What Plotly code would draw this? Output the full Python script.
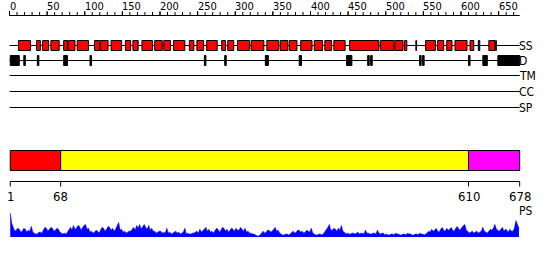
import plotly.graph_objects as go

# ---------------- data ----------------
seq_len = 678
ruler_major = [0, 50, 100, 150, 200, 250, 300, 350, 400, 450, 500, 550, 600, 650]
ruler_minor = list(range(0, 680, 10))

# secondary structure elements (H = helix, E = strand)
ss_start = [12, 36, 44, 55, 72, 78, 90, 113, 121, 135, 154, 164, 176, 193, 205, 218, 239, 249,
            262, 282, 290, 303, 321, 342, 360, 372, 387, 405, 419, 431, 452, 493, 512, 525,
            540, 553, 569, 581, 592, 612, 623, 637, 646]
ss_end = [28, 41, 52, 66, 77, 87, 105, 120, 131, 149, 161, 171, 190, 203, 214, 233, 245, 258,
          276, 287, 298, 319, 338, 358, 370, 382, 402, 416, 428, 446, 491, 511, 523, 528,
          541, 566, 577, 588, 608, 617, 625, 645, 647]
ss_type = ['H'] * 40 + ['E'] + ['H', 'H']

# disordered regions
d_start = [1, 19, 37, 72, 107, 259, 286, 340, 385, 448, 476, 480, 545, 549, 610, 629, 649]
d_end = [13, 21, 39, 77, 109, 261, 288, 344, 388, 455, 478, 482, 547, 551, 612, 635, 678]

track_names = ['SS', 'D', 'TM', 'CC', 'SP']

# domain architecture
dom_start = [1, 68, 610]
dom_end = [68, 610, 678]
dom_colors = ['#FF0000', '#FFFF00', '#FF00FF']
dom_ticks = [1, 68, 610, 678]

# PS profile (sampled every 2 residues, r = 1, 3, 5, ...)
ps_pos = list(range(1, 678, 2))
ps_val = [25, 14, 10, 6, 7, 9, 8, 5, 6, 9, 8, 5, 7, 6, 11, 5, 4, 3, 3, 5,
          5, 4, 7, 10, 9, 6, 8, 10, 9, 6, 7, 9, 8, 5, 4, 3, 4, 3, 5, 7,
          10, 7, 12, 8, 9, 12, 11, 7, 10, 12, 13, 8, 9, 5, 6, 4, 5, 7, 6, 4,
          7, 10, 9, 6, 8, 11, 10, 7, 9, 6, 8, 11, 15, 7, 8, 5, 6, 4, 5, 6,
          6, 8, 10, 7, 12, 9, 13, 8, 11, 13, 10, 8, 12, 7, 9, 6, 6, 4, 5, 6,
          6, 4, 5, 4, 9, 4, 5, 3, 4, 5, 6, 4, 5, 3, 4, 5, 9, 3, 4, 3,
          3, 4, 4, 5, 6, 4, 8, 5, 7, 9, 10, 6, 8, 5, 6, 4, 7, 9, 8, 5,
          7, 10, 9, 6, 8, 5, 7, 9, 8, 6, 9, 7, 7, 10, 8, 6, 9, 5, 6, 4,
          4, 3, 3, 2, 1, 1, 2, 4, 6, 4, 5, 7, 7, 5, 6, 8, 10, 6, 7, 4,
          3, 2, 2, 3, 3, 2, 3, 5, 6, 4, 5, 7, 7, 5, 6, 4, 5, 7, 6, 5,
          9, 4, 3, 2, 2, 3, 3, 2, 3, 5, 8, 10, 13, 7, 7, 9, 8, 6, 9, 7,
          12, 6, 5, 3, 4, 3, 3, 4, 4, 3, 4, 5, 3, 4, 4, 3, 7, 4, 4, 3,
          3, 4, 4, 3, 7, 4, 3, 4, 4, 2, 3, 2, 2, 3, 3, 2, 4, 3, 3, 2,
          2, 3, 3, 2, 4, 3, 3, 2, 2, 3, 3, 2, 4, 3, 3, 2, 3, 4, 6, 5,
          8, 6, 7, 9, 6, 5, 8, 10, 7, 6, 9, 7, 8, 10, 7, 6, 9, 11, 8, 7,
          10, 12, 13, 7, 6, 4, 5, 6, 4, 5, 6, 4, 5, 6, 10, 6, 5, 4, 6, 8,
          7, 9, 13, 8, 7, 6, 8, 10, 6, 8, 7, 5, 8, 6, 6, 9, 17, 12, 9]

# ---------------- layout helpers ----------------
W, H = 550, 260
px_per_res = 0.7525
x_left = 9.5
xr = [-x_left / px_per_res, (W - x_left) / px_per_res]

FONT = "DejaVu Sans Condensed, DejaVu Sans, sans-serif"
track_y = [45.5, 60.5, 75.5, 91.5, 107.5]

shapes = []
annotations = []

def line(x0, x1, y0, y1, color="black", width=1):
    shapes.append(dict(type="line", xref="x", yref="y", x0=x0, x1=x1, y0=y0, y1=y1,
                       line=dict(color=color, width=width)))

def rect(x0, x1, y0, y1, fill, border="black"):
    shapes.append(dict(type="rect", xref="x", yref="y", x0=x0, x1=x1, y0=y0, y1=y1,
                       fillcolor=fill, line=dict(color=border, width=1)))

# top ruler
line(0, seq_len, 15.5, 15.5)
for t in ruler_minor:
    line(t, t, 12, 15.5)
for t in ruler_major:
    line(t, t, 11, 15.5)
    annotations.append(dict(x=t, y=6.5, xref="x", yref="y", text=str(t), showarrow=False,
                            xanchor="left", yanchor="middle", xshift=-2,
                            font=dict(family=FONT, size=11, color="black")))

# tracks
for name, ty in zip(track_names, track_y):
    line(0, seq_len, ty, ty)
    annotations.append(dict(x=seq_len, y=ty, xref="x", yref="y", text=name, showarrow=False,
                            xanchor="left", yanchor="middle", xshift=-3,
                            font=dict(family=FONT, size=12, color="black")))

for s, e, t in zip(ss_start, ss_end, ss_type):
    rect(s, e, 40.5, 50.5, "#FF0000" if t == 'H' else "#0000FF")

for s, e in zip(d_start, d_end):
    rect(s, e, 55.5, 65.5, "black")

# domain bar
for s, e, c in zip(dom_start, dom_end, dom_colors):
    rect(s, e, 150.5, 170.5, c)

line(1, seq_len, 181.5, 181.5)
for t in dom_ticks:
    line(t, t, 181.5, 186.5)
    annotations.append(dict(x=t, y=196, xref="x", yref="y", text=str(t), showarrow=False,
                            xanchor="center", yanchor="middle",
                            font=dict(family=FONT, size=13, color="black")))

annotations.append(dict(x=seq_len, y=211, xref="x", yref="y", text="PS", showarrow=False,
                        xanchor="left", yanchor="middle", xshift=-3,
                        font=dict(family=FONT, size=12, color="black")))

fig = go.Figure()
fig.add_trace(go.Scatter(x=[0], y=[0], mode="markers", marker=dict(opacity=0),
                         hoverinfo="skip", showlegend=False))
fig.add_trace(go.Scatter(x=ps_pos, y=ps_val, mode="lines", yaxis="y2",
                         fill="tozeroy", fillcolor="#0000FF",
                         line=dict(color="#0000FF", width=0.6), showlegend=False))

fig.update_layout(
    width=W, height=H,
    margin=dict(l=0, r=0, t=0, b=0),
    paper_bgcolor="white", plot_bgcolor="white",
    xaxis=dict(range=xr, visible=False, fixedrange=True),
    yaxis=dict(range=[H, 0], visible=False, fixedrange=True, domain=[0, 1]),
    yaxis2=dict(range=[0, 25], visible=False, fixedrange=True,
                domain=[1 - 237 / H, 1 - 213 / H], anchor="x"),
    shapes=shapes,
    annotations=annotations,
    showlegend=False,
)

fig.write_html("out.html")
